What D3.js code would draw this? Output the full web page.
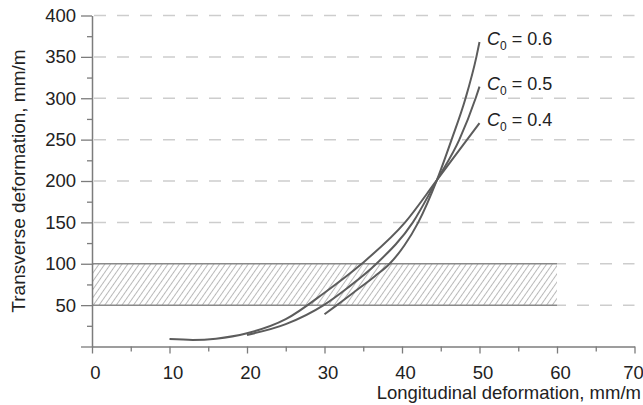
<!DOCTYPE html>
<html><head><meta charset="utf-8">
<script src="https://cdn.jsdelivr.net/npm/d3@7"></script>
<style>
body{margin:0;background:#fff}
svg{display:block}
text{font-family:"Liberation Sans",Arial,Helvetica,sans-serif}
</style>
</head><body>
<svg id="chart" width="643" height="405"></svg>
<script>
// ---- data ----
const xTickValues = [0, 10, 20, 30, 40, 50, 60, 70];
const xMinorTicks = [5, 15, 25, 35, 45, 55, 65];
const yTickValues = [0, 50, 100, 150, 200, 250, 300, 350, 400];
const yMinorTicks = [25, 75, 125, 175, 225, 275, 325, 375];
const gridLevels = [50, 100, 150, 200, 250, 300, 350, 400];
const bandRange = [50, 100];
const bandEndX = 60;

const c06X = [30, 31.6, 34, 36.5, 38.4, 40.3, 42.1, 44.5, 46.4, 48.2, 49.6, 50];
const c06Y = [39, 50, 67, 85, 100, 122, 150, 201, 250, 300, 350, 368];
const c05X = [20, 25, 29.9, 33, 36.7, 41.4, 44.5, 47.4, 49.5, 50];
const c05Y = [14, 27, 50, 71, 100, 150, 201, 250, 300, 314];
const c04X = [10, 13, 16, 20, 25, 30, 34.8, 40.4, 44.5, 48.4, 50];
const c04Y = [9, 8, 9.5, 16, 33, 65, 100, 150, 201, 250, 270];
const seriesLabels = ["0.6", "0.5", "0.4"];

// ---- chart ----
const svg = d3.select("#chart");
const x = d3.scaleLinear().domain([0, 70]).range([92, 634.5]);
const y = d3.scaleLinear().domain([0, 400]).range([346.5, 15.5]);

const axisColor = "#7c7c7c";
const textColor = "#222";

const defs = svg.append("defs");
const pat = defs.append("pattern")
  .attr("id", "hatch").attr("patternUnits", "userSpaceOnUse")
  .attr("width", 4.7).attr("height", 10)
  .attr("patternTransform", "rotate(35)");
pat.append("line").attr("x1", 2.35).attr("x2", 2.35).attr("y1", 0).attr("y2", 10)
  .attr("stroke", "#b8b8b8").attr("stroke-width", 1);

// dashed grid
svg.append("g").selectAll("line").data(gridLevels).join("line")
  .attr("x1", x(0) + 2).attr("x2", x(70))
  .attr("y1", d => y(d)).attr("y2", d => y(d))
  .attr("stroke", "#cdcdcd").attr("stroke-width", 1.5)
  .attr("stroke-dasharray", "12,11");

// hatched band
svg.append("rect")
  .attr("x", x(0)).attr("width", x(bandEndX) - x(0))
  .attr("y", y(bandRange[1])).attr("height", y(bandRange[0]) - y(bandRange[1]))
  .attr("fill", "#fff");
svg.append("rect")
  .attr("x", x(0)).attr("width", x(bandEndX) - x(0))
  .attr("y", y(bandRange[1])).attr("height", y(bandRange[0]) - y(bandRange[1]))
  .attr("fill", "url(#hatch)");
svg.append("g").selectAll("line").data(bandRange).join("line")
  .attr("x1", x(0)).attr("x2", x(bandEndX))
  .attr("y1", d => y(d)).attr("y2", d => y(d))
  .attr("stroke", "#8a8a8a").attr("stroke-width", 1.5);

// axes
function styleAxis(g) {
  g.selectAll("path.domain").attr("stroke", axisColor).attr("stroke-width", 1.5);
  g.selectAll(".tick line").attr("stroke", axisColor).attr("stroke-width", 1.3);
  g.selectAll(".tick text").attr("fill", textColor).style("font-size", "18.5px");
}
const xAxis = svg.append("g").attr("transform", `translate(0,${y(0)})`)
  .call(d3.axisBottom(x).tickValues(xTickValues).tickSize(7).tickSizeOuter(0).tickPadding(12))
  .call(styleAxis);
xAxis.selectAll(".tick text").attr("dx", d => d === 70 ? -1.5 : 3);
svg.append("g").attr("transform", `translate(0,${y(0)})`)
  .call(d3.axisBottom(x).tickValues(xMinorTicks).tickSize(5).tickSizeOuter(0).tickFormat(""))
  .call(styleAxis).select("path.domain").remove();

const yAxis = svg.append("g").attr("transform", `translate(${x(0)},0)`)
  .call(d3.axisLeft(y).tickValues(yTickValues).tickSize(11).tickSizeOuter(0).tickPadding(5))
  .call(styleAxis);
yAxis.selectAll(".tick text").filter(d => d === 0).remove();
svg.append("g").attr("transform", `translate(${x(0)},0)`)
  .call(d3.axisLeft(y).tickValues(yMinorTicks).tickSize(5).tickSizeOuter(0).tickFormat(""))
  .call(styleAxis).select("path.domain").remove();

// axis titles
svg.append("text").attr("x", 641).attr("y", 398.5).attr("text-anchor", "end")
  .attr("fill", textColor).style("font-size", "18.5px")
  .text("Longitudinal deformation, mm/m");
svg.append("text").attr("transform", "translate(25,181) rotate(-90)")
  .attr("text-anchor", "middle").attr("fill", textColor).style("font-size", "19px")
  .text("Transverse deformation, mm/m");

// curves
const series = [
  {label: seriesLabels[0], xs: c06X, ys: c06Y},
  {label: seriesLabels[1], xs: c05X, ys: c05Y},
  {label: seriesLabels[2], xs: c04X, ys: c04Y}
];
const line = d3.line().x(d => x(d[0])).y(d => y(d[1])).curve(d3.curveMonotoneX);
svg.append("g").selectAll("path").data(series).join("path")
  .attr("d", s => line(s.xs.map((v, i) => [v, s.ys[i]])))
  .attr("fill", "none").attr("stroke", "#5c5c5c").attr("stroke-width", 2);

// labels
series.forEach(s => {
  const n = s.xs.length;
  const t = svg.append("text")
    .attr("x", x(s.xs[n - 1]) + 7.5).attr("y", y(s.ys[n - 1]) + 3)
    .attr("fill", textColor).style("font-size", "18px");
  t.append("tspan").style("font-style", "italic").text("C");
  t.append("tspan").attr("dy", 5).style("font-size", "12px").text("0");
  t.append("tspan").attr("dy", -5).text(" = " + s.label);
});
</script>
</body></html>
